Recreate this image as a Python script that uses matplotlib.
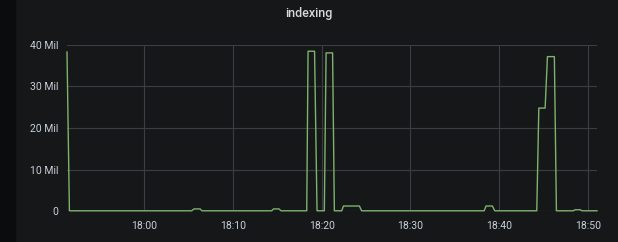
import datetime as dt
import matplotlib
matplotlib.use("Agg")
import matplotlib.pyplot as plt
import matplotlib.dates as mdates

# breakpoints of the series: minutes after 17:50, value in millions
minutes = [1.33, 1.6, 15.37, 15.63, 16.31, 16.53, 24.38, 24.58, 25.2, 25.43,
           28.32, 28.47, 29.2, 29.48, 30.3, 30.5, 31.23, 31.43,
           32.26, 32.45, 34.25, 34.5, 48.29, 48.51, 49.22, 49.49,
           54.22, 54.45, 55.16, 55.42, 56.2, 56.43,
           58.34, 58.53, 59.1, 59.32, 61.0]
values = [38.3, 0.05, 0.05, 0.5, 0.5, 0.05, 0.05, 0.5, 0.5, 0.05,
          0.05, 38.5, 38.5, 0.05, 0.05, 38.1, 38.1, 0.05,
          0.05, 1.2, 1.2, 0.05, 0.05, 1.2, 1.2, 0.05,
          0.05, 24.8, 24.8, 37.2, 37.2, 0.05,
          0.05, 0.3, 0.3, 0.05, 0.05]
yticks = [0, 10, 20, 30, 40]
ytick_labels = ["0", "10 Mil", "20 Mil", "30 Mil", "40 Mil"]

base = dt.datetime(2020, 1, 1, 17, 50)
times = [base + dt.timedelta(minutes=m) for m in minutes]

plt.rcParams["font.family"] = ["Roboto", "DejaVu Sans"]
bg = "#161719"
text_col = "#c7d0d9"

fig = plt.figure(figsize=(6.18, 2.42), dpi=100, facecolor=bg)
# dark strip on the left edge
fig.patches.append(plt.Rectangle((0, 0), 15 / 618, 1, transform=fig.transFigure,
                                 color="#0b0c0e", zorder=0))
ax = fig.add_axes([67 / 618, 31 / 242, 530 / 618, 166 / 242])
ax.set_facecolor(bg)

ax.plot(times, values, color="#7eb26d", linewidth=1.0, clip_on=False, zorder=3)

ax.set_xlim(times[0], times[-1])
ax.set_ylim(0, 40)
ax.set_yticks(yticks)
ax.set_yticklabels(ytick_labels)
ax.xaxis.set_major_locator(mdates.MinuteLocator(byminute=[0, 10, 20, 30, 40, 50]))
ax.xaxis.set_major_formatter(mdates.DateFormatter("%H:%M"))

ax.grid(True, color="#3a3d42", linewidth=0.8)
ax.set_axisbelow(True)
for s in ax.spines.values():
    s.set_visible(False)
ax.tick_params(length=0, colors=text_col, labelsize=7.5)
ax.tick_params(axis="y", pad=6)
ax.tick_params(axis="x", pad=7)

fig.text(0.5, 1 - 13 / 242, "indexing", ha="center", va="center",
         color="#d8d9da", fontsize=9, fontweight="medium")

fig.savefig("out.png", dpi=100, facecolor=bg)
